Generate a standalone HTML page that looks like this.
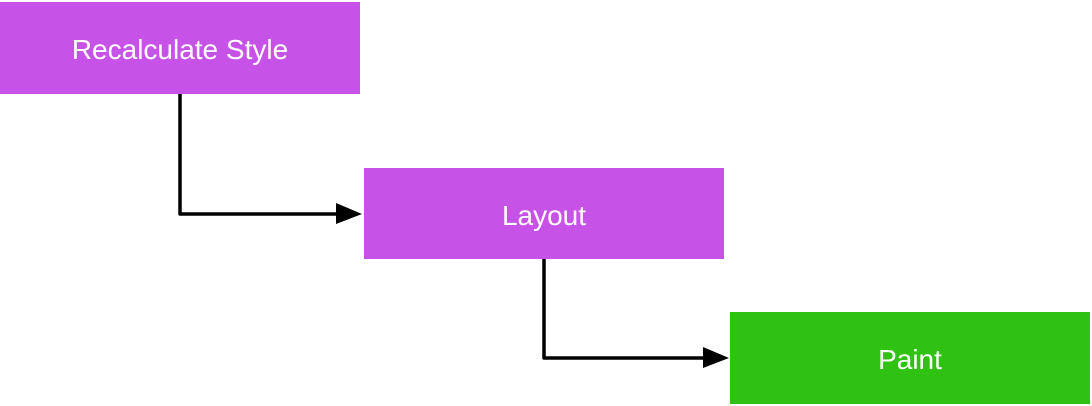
<!DOCTYPE html>
<html><head><meta charset="utf-8"><style>
html,body{margin:0;padding:0;background:#fff;width:1092px;height:406px;overflow:hidden}
.b{position:absolute;display:flex;align-items:center;justify-content:center;color:#fff;font-family:"Liberation Sans",Arial,sans-serif;font-size:28px;padding-top:4px;box-sizing:border-box}
</style></head><body>
<div class="b" style="left:0;top:2px;width:360px;height:92px;background:#c752e8">Recalculate Style</div>
<div class="b" style="left:364px;top:168px;width:360px;height:91px;background:#c752e8">Layout</div>
<div class="b" style="left:730px;top:312px;width:360px;height:92px;background:#30c212">Paint</div>
<svg width="1092" height="406" style="position:absolute;left:0;top:0">
<polyline points="180,94 180,214 338,214" fill="none" stroke="#000" stroke-width="3.5" stroke-linejoin="round"/>
<polygon points="336,203 362,214 336,224" fill="#000"/>
<polyline points="544,259 544,358 705,358" fill="none" stroke="#000" stroke-width="3.5" stroke-linejoin="round"/>
<polygon points="703,347 729,358 703,368" fill="#000"/>
</svg>
</body></html>
